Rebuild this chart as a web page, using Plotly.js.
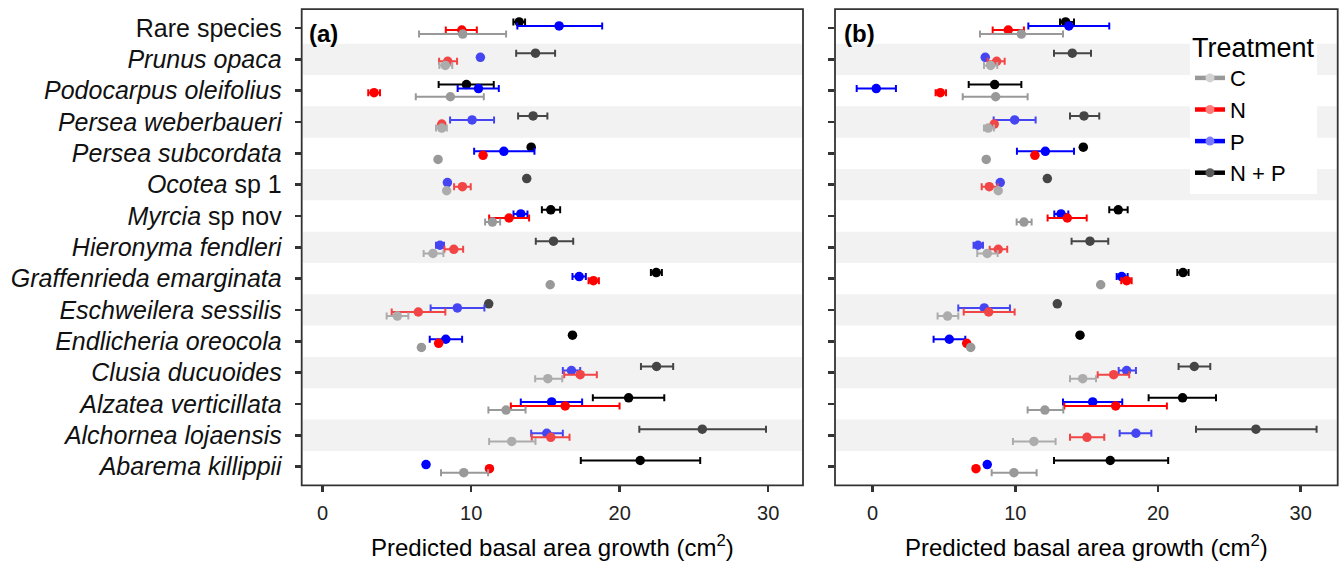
<!DOCTYPE html>
<html>
<head>
<meta charset="utf-8">
<script src="https://cdn.plot.ly/plotly-3.0.1.min.js"></script>
<style>html,body{margin:0;padding:0;background:#fff;}#chart{width:1341px;height:564px;}</style>
</head>
<body>
<div id="chart"></div>
<script>
// ---------- data ----------
const categories = ["Rare species","Prunus opaca","Podocarpus oleifolius","Persea weberbaueri","Persea subcordata","Ocotea sp 1","Myrcia sp nov","Hieronyma fendleri","Graffenrieda emarginata","Eschweilera sessilis","Endlicheria oreocola","Clusia ducuoides","Alzatea verticillata","Alchornea lojaensis","Abarema killippii"];
const tickLabels = ["Rare species","<i>Prunus opaca</i>","<i>Podocarpus oleifolius</i>","<i>Persea weberbaueri</i>","<i>Persea subcordata</i>","<i>Ocotea</i> sp 1","<i>Myrcia</i> sp nov","<i>Hieronyma fendleri</i>","<i>Graffenrieda emarginata</i>","<i>Eschweilera sessilis</i>","<i>Endlicheria oreocola</i>","<i>Clusia ducuoides</i>","<i>Alzatea verticillata</i>","<i>Alchornea lojaensis</i>","<i>Abarema killippii</i>"];
const treatments = ["C","N","P","N + P"];
const xTicks = [0,10,20,30];
const panelLabels = ["(a)","(b)"];
const xTitle = "Predicted basal area growth (cm<sup>2</sup>)";

// Panel (a)
const a_C     = [9.43, 8.26, 8.60, 8.02, 7.77, 8.35, 11.43, 7.43, 15.32, 5.03, 6.65, 15.16, 12.35, 12.73, 9.50];
const a_C_lo  = [6.49, 7.86, 6.27, 7.63, null, null, 10.94, 6.80, null, 4.31, null, 14.31, 11.16, 11.21, 7.97];
const a_C_hi  = [12.35, 8.73, 10.85, 8.36, null, null, 11.95, 8.13, null, 5.77, null, 16.13, 13.66, 14.33, 11.14];
const a_N     = [9.37, 8.42, 3.46, 8.02, 10.80, 9.41, 12.55, 8.83, 18.23, 6.44, 7.81, 17.34, 16.33, 15.36, 11.23];
const a_N_lo  = [8.29, 7.84, 3.07, null, null, 8.85, 11.21, 8.20, 17.90, 4.65, null, 16.26, 12.67, 14.08, null];
const a_N_hi  = [10.38, 9.05, 3.86, null, null, 9.97, 13.90, 9.46, 18.60, 8.26, null, 18.46, 19.99, 16.62, null];
const a_P     = [15.92, 10.62, 10.49, 10.06, 12.20, 8.40, 13.34, 7.90, 17.27, 9.07, 8.29, 16.75, 15.42, 15.09, 6.96];
const a_P_lo  = [13.11, null, 9.09, 8.58, 10.20, null, 12.85, 7.63, 16.82, 7.27, 7.21, 16.17, 13.34, 14.04, null];
const a_P_hi  = [18.82, null, 11.86, 11.54, 14.26, null, 13.79, 8.17, 17.72, 10.89, 9.39, 17.34, 17.47, 16.17, null];
const a_NP    = [13.23, 14.33, 9.68, 14.17, 14.04, 13.74, 15.36, 15.54, 22.46, 11.18, 16.82, 22.48, 20.60, 25.56, 21.38];
const a_NP_lo = [12.84, 13.03, 7.81, 13.16, null, null, 14.76, 14.35, 22.10, null, null, 21.43, 18.19, 21.32, 17.38];
const a_NP_hi = [13.63, 15.65, 11.52, 15.13, null, null, 15.99, 16.87, 22.84, null, null, 23.60, 23.00, 29.85, 25.42];

// Panel (b)
const b_C     = [10.42, 8.27, 8.62, 8.10, 7.96, 8.80, 10.60, 8.03, 15.98, 5.25, 6.87, 14.72, 12.07, 11.30, 9.90];
const b_C_lo  = [7.52, 7.80, 6.31, 7.80, null, null, 10.09, 7.33, null, 4.55, null, 13.83, 10.86, 9.83, 8.34];
const b_C_hi  = [13.34, 8.73, 10.86, 8.50, null, null, 11.14, 8.76, null, 6.00, null, 15.65, 13.36, 12.82, 11.49];
const b_N     = [9.50, 8.69, 4.74, 8.52, 11.37, 8.17, 13.64, 8.80, 17.80, 8.13, 6.59, 16.89, 17.03, 15.02, 7.24];
const b_N_lo  = [8.41, 8.06, 4.41, null, null, 7.64, 12.26, 8.20, 17.42, 6.38, null, 15.77, 13.43, 13.83, null];
const b_N_hi  = [10.60, 9.25, 5.14, null, null, 8.78, 15.00, 9.43, 18.15, 9.95, null, 17.98, 20.62, 16.23, null];
const b_P     = [13.75, 7.89, 0.25, 9.95, 12.10, 8.94, 13.20, 7.38, 17.45, 7.82, 5.37, 17.80, 15.42, 18.45, 8.03];
const b_P_lo  = [10.91, null, -1.12, 8.48, 10.11, null, 12.73, 7.07, 17.10, 6.00, 4.27, 17.24, 13.34, 17.31, null];
const b_P_hi  = [16.58, null, 1.63, 11.42, 14.11, null, 13.71, 7.73, 17.87, 9.62, 6.49, 18.45, 17.49, 19.53, null];
const b_NP    = [13.52, 13.99, 8.55, 14.81, 14.76, 12.24, 17.21, 15.23, 21.75, 12.94, 14.53, 22.54, 21.72, 26.86, 16.65];
const b_NP_lo = [13.13, 12.71, 6.73, 13.83, null, null, 16.58, 13.94, 21.35, null, null, 21.44, 19.34, 22.66, 12.71];
const b_NP_hi = [14.11, 15.30, 10.42, 15.88, null, null, 17.87, 16.51, 22.14, null, null, 23.66, 24.06, 31.11, 20.71];

// ---------- styling ----------
const FONT = "Liberation Sans, Arial, Helvetica, sans-serif";
const colors = {"C":"#999999","N":"#FF0000","P":"#0000FF","N + P":"#000000"};
const legendDot = {"C":"#d2d2d2","N":"#ff7a7a","P":"#7a7aff","N + P":"#5a5a5a"};
const offsets = {"N + P":-0.195,"P":-0.065,"N":0.065,"C":0.195};
const W = 1341, H = 564;
const domA = [301.7/W, 803/W], domB = [835/W, 1337.7/W];
const domY = [1-485.4/H, 1-9.2/H];

const panels = [
  {xa:'x', ya:'y', data:{"C":[a_C,a_C_lo,a_C_hi],"N":[a_N,a_N_lo,a_N_hi],"P":[a_P,a_P_lo,a_P_hi],"N + P":[a_NP,a_NP_lo,a_NP_hi]}},
  {xa:'x2', ya:'y2', data:{"C":[b_C,b_C_lo,b_C_hi],"N":[b_N,b_N_lo,b_N_hi],"P":[b_P,b_P_lo,b_P_hi],"N + P":[b_NP,b_NP_lo,b_NP_hi]}}
];

const drawOrder = ["N + P","P","N","C"];
const traces = [];
panels.forEach(p => {
  drawOrder.forEach(t => {
    const [v, lo, hi] = p.data[t];
    traces.push({
      type:'scatter', mode:'markers', xaxis:p.xa, yaxis:p.ya, name:t, showlegend:false,
      x: v,
      y: categories.map((c,i) => i + offsets[t]),
      marker:{color:colors[t], size:9.5, line:{width:0}},
      error_x:{type:'data', symmetric:false,
        array: v.map((val,i) => hi[i]==null ? null : hi[i]-val),
        arrayminus: v.map((val,i) => lo[i]==null ? null : val-lo[i]),
        color:colors[t], thickness:2, width:3.5},
      hoverinfo:'x+name'
    });
  });
});
// legend entries
treatments.forEach(t => {
  traces.push({type:'scatter', mode:'lines+markers', xaxis:'x', yaxis:'y', name:t, showlegend:true,
    x:[null], y:[null], line:{color:colors[t], width:4.5}, marker:{color:legendDot[t], size:9}});
});

const shapes = [];
['y','y2'].forEach((ya,k) => {
  const xa = k===0 ? 'x' : 'x2';
  categories.forEach((c,i) => {
    if (i % 2 === 1) {
      shapes.push({type:'rect', xref:xa+' domain', yref:ya, x0:0.002, x1:0.998, y0:i-0.5, y1:i+0.5,
        fillcolor:'rgba(214,214,214,0.32)', line:{width:0}, layer:'above'});
    }
  });
  shapes.push({type:'rect', xref:xa+' domain', yref:ya+' domain', x0:0, x1:1, y0:0, y1:1,
    line:{color:'#333333', width:1.8}, fillcolor:'rgba(0,0,0,0)', layer:'above'});
});

const xCommon = {tickvals:xTicks, ticktext:xTicks.map(String), ticks:'outside', ticklen:6, tickwidth:2.5, tickcolor:'#333',
  showgrid:false, zeroline:false, showline:false, automargin:false, ticklabelstandoff:4,
  tickfont:{family:FONT, size:20, color:'#222'}, fixedrange:true};
const yCommon = {tickvals:categories.map((c,i)=>i), ticks:'outside', ticklen:6, tickwidth:2.5, tickcolor:'#333',
  showgrid:false, zeroline:false, showline:false, automargin:false, range:[14.6,-0.6], domain:domY, fixedrange:true};

const layout = {
  width:W, height:H, margin:{l:0,r:0,t:0,b:0}, paper_bgcolor:'#fff', plot_bgcolor:'#fff',
  font:{family:FONT, color:'#000'},
  xaxis:Object.assign({}, xCommon, {domain:domA, range:[-1.41,32.34], anchor:'y'}),
  xaxis2:Object.assign({}, xCommon, {domain:domB, range:[-2.64,32.59], anchor:'y2'}),
  yaxis:Object.assign({}, yCommon, {anchor:'x', ticktext:tickLabels, tickfont:{family:FONT, size:25, color:'#111'}, ticklabelstandoff:8}),
  yaxis2:Object.assign({}, yCommon, {anchor:'x2', showticklabels:false}),
  shapes:shapes,
  legend:{x:1190/W, xanchor:'left', y:1-22/H, yanchor:'top', bgcolor:'#fff', borderwidth:0,
    font:{family:FONT, size:22, color:'#000'}, title:{text:'Treatment', font:{family:FONT, size:27, color:'#000'}},
    tracegroupgap:0, itemwidth:30},
  annotations:[
    {text:'<b>'+panelLabels[0]+'</b>', xref:'paper', yref:'paper', x:323.3/W, y:1-33/H, xanchor:'center', yanchor:'middle', showarrow:false, font:{family:FONT, size:24, color:'#000'}},
    {text:'<b>'+panelLabels[1]+'</b>', xref:'paper', yref:'paper', x:860/W, y:1-33/H, xanchor:'center', yanchor:'middle', showarrow:false, font:{family:FONT, size:24, color:'#000'}},
    {text:xTitle, xref:'paper', yref:'paper', x:(domA[0]+domA[1])/2, y:1-546/H, xanchor:'center', yanchor:'middle', showarrow:false, font:{family:FONT, size:24, color:'#000'}},
    {text:xTitle, xref:'paper', yref:'paper', x:(domB[0]+domB[1])/2, y:1-546/H, xanchor:'center', yanchor:'middle', showarrow:false, font:{family:FONT, size:24, color:'#000'}}
  ],
  showlegend:true
};

Plotly.newPlot('chart', traces, layout, {displayModeBar:false, staticPlot:true});
</script>
</body>
</html>
